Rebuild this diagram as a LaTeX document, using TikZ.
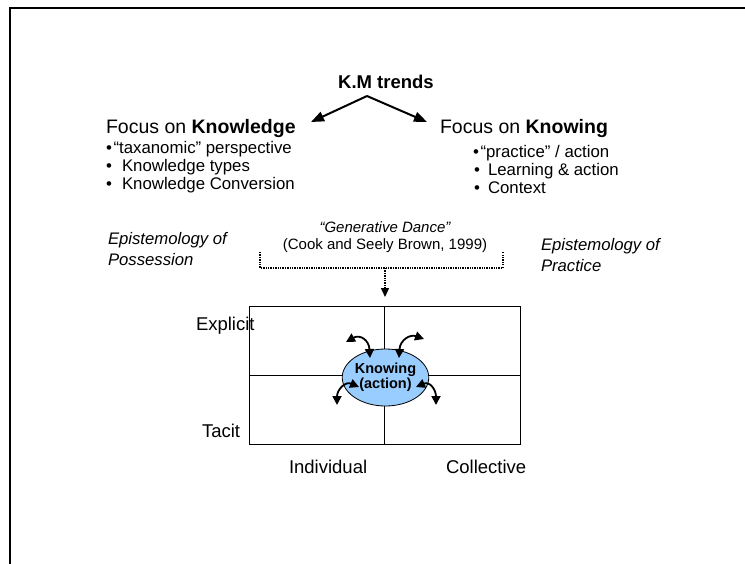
\documentclass[tikz,border=0pt]{standalone}
\usepackage{fontspec}
\setmainfont{Liberation Sans}
\usetikzlibrary{arrows.meta,shapes.geometric}
\definecolor{ellblue}{HTML}{99CCFF}
\newcommand\fTitle{\fontsize{18.5}{22}\selectfont\bfseries}
\newcommand\fHead{\fontsize{19.5}{23}\selectfont}
\newcommand\fItem{\fontsize{16.8}{20}\selectfont}
\newcommand\fSide{\fontsize{16.7}{21}\selectfont\itshape}
\newcommand\fSmall{\fontsize{15}{17}\selectfont}
\newcommand\fAxis{\fontsize{18.5}{22}\selectfont}
\newcommand\fEll{\fontsize{14.5}{16}\selectfont\bfseries}
\begin{document}
\begin{tikzpicture}[x=1pt,y=-1pt,
  every node/.style={inner sep=0pt,outer sep=0pt},
  txt/.style={anchor=base west},
  ctxt/.style={anchor=base},
  bigarrow/.style={line width=2,-{Triangle[length=13,width=10]}},
  curvy/.style={line width=1.8,{Triangle[length=9,width=9]}-{Triangle[length=9,width=9]}},
  dots/.style={line width=1.5,dash pattern=on 1.3 off 1.1},
  grid/.style={line width=0.8}]
\useasboundingbox (0,0) rectangle (745,563);
% frame
\draw[line width=2.2] (746,8) -- (10,8) -- (10,564);
% title and arrows
\node[ctxt] (km) at (386,88) {\fTitle K.M trends};
\coordinate (kmbase) at (367,96);
\coordinate (lefttip) at (311,122);
\coordinate (righttip) at (427,122);
\draw[bigarrow] (kmbase) -- (lefttip);
\draw[bigarrow] (kmbase) -- (righttip);
% left column
\node[txt] (fk) at (106,133) {\fHead Focus on \textbf{Knowledge}};
\node[txt] (l1b) at (106,153) {\fItem •};
\node[txt] (l1) at (113.5,153) {\fItem “taxanomic” perspective};
\node[txt] (l2b) at (106,171) {\fItem •};
\node[txt] (l2) at (122,171) {\fItem Knowledge types};
\node[txt] (l3b) at (106,189) {\fItem •};
\node[txt] (l3) at (122,189) {\fItem Knowledge Conversion};
% right column
\node[txt] (fw) at (440,133) {\fHead Focus on \textbf{Knowing}};
\node[txt] (r1b) at (473,157) {\fItem •};
\node[txt] (r1) at (480.5,157) {\fItem “practice” / action};
\node[txt] (r2b) at (474,175) {\fItem •};
\node[txt] (r2) at (488,175) {\fItem Learning \& action};
\node[txt] (r3b) at (474,193) {\fItem •};
\node[txt] (r3) at (488,193) {\fItem Context};
% epistemologies
\node[txt] (ep1) at (108,244) {\fSide Epistemology of};
\node[txt] (ep1b) at (108,265) {\fSide Possession};
\node[txt] (ep2) at (541,250) {\fSide Epistemology of};
\node[txt] (ep2b) at (541,271) {\fSide Practice};
\node[ctxt] (gd) at (385,232) {\fSmall\itshape “Generative Dance”};
\node[ctxt] (cook) at (385,249) {\fSmall (Cook and Seely Brown, 1999)};
% dotted bracket
\coordinate (bl) at (260,252);
\coordinate (br) at (503,252);
\coordinate (bmid) at (385,268);
\coordinate (btip) at (385,297);
\draw[dots] (bl) -- (260,268) -- (503,268) -- (br);
\draw[dots,-{Triangle[length=9,width=8]}] (bmid) -- (btip);
% grid
\draw[grid] (249,306) rectangle (520,444);
\draw[grid] (384,306) -- (384,444);
\draw[grid] (249,375) -- (520,375);
\node[txt] (expl) at (196,330) {\fAxis Explicit};
\node[txt] (tac) at (202,437) {\fAxis Tacit};
\node[txt] (ind) at (289,473) {\fAxis Individual};
\node[txt] (col) at (446,473) {\fAxis Collective};
% ellipse
\node[ellipse,draw,line width=0.8,fill=ellblue,minimum width=79,minimum height=57,align=center] (kn) at (385.5,377.5) {\fEll Knowing\\\fEll (action)};
% curved arrows
\coordinate (tl1) at (370,358); \coordinate (tl2) at (346,342);
\coordinate (tr1) at (399,358); \coordinate (tr2) at (424,339);
\coordinate (bl1) at (359,387); \coordinate (bl2) at (337,405);
\coordinate (br1) at (416,387); \coordinate (br2) at (436,405);
\draw[curvy] (tl1) .. controls (369,340) and (360,334) .. (tl2);
\draw[curvy] (tr1) .. controls (400,340) and (410,334) .. (tr2);
\draw[curvy] (bl1) .. controls (345,381) and (337,390) .. (bl2);
\draw[curvy] (br1) .. controls (430,381) and (436,390) .. (br2);
\end{tikzpicture}
\end{document}
